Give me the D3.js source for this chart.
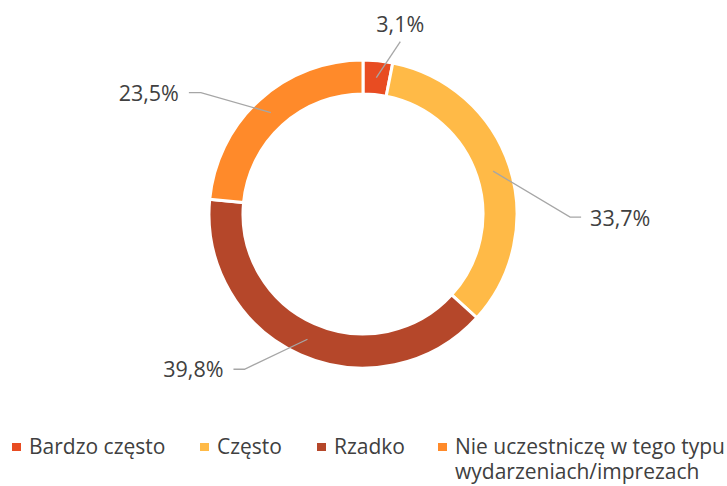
<!DOCTYPE html>
<html>
<head>
<meta charset="utf-8">
<script src="https://cdn.jsdelivr.net/npm/d3@7"></script>
<style>
  body { margin: 0; background: #fff; }
  svg text { font-family: "Open Sans", "Noto Sans", sans-serif; fill: #404040; }
</style>
</head>
<body>
<div id="chart"></div>
<script>
// chart data
const categories = ["Bardzo często", "Często", "Rzadko", "Nie uczestniczę w tego typu wydarzeniach/imprezach"];
const values = [3.1, 33.7, 39.8, 23.5];
const valueLabels = ["3,1%", "33,7%", "39,8%", "23,5%"];
const legendLines = [["Bardzo często"], ["Często"], ["Rzadko"], ["Nie uczestniczę w tego typu", "wydarzeniach/imprezach"]];

const colors = ["#E84C22", "#FFBA47", "#B5472A", "#FF8A2A"];

const width = 727, height = 486;
const cx = 363, cy = 214;
const outerR = 154, innerR = 120;

// label placement relative to slice centroid: elbow offset, end offset, anchor
const labelLayout = [
  { elbow: [24, -36], end: [24, -36], anchor: "middle", tdx: 0, tdy: -10 },
  { elbow: [77, 46], end: [88, 46], anchor: "start", tdx: 9, tdy: 9 },
  { elbow: [-63, 30], end: [-74, 30], anchor: "end", tdx: -10, tdy: 8 },
  { elbow: [-70, -20], end: [-82, -20], anchor: "end", tdx: -10, tdy: 8 }
];

const svg = d3.select("#chart").append("svg")
  .attr("width", width)
  .attr("height", height);

const g = svg.append("g").attr("transform", "translate(" + cx + "," + cy + ")");

const pie = d3.pie().sort(null).value(d => d);
const arcs = pie(values);

const arc = d3.arc().innerRadius(innerR).outerRadius(outerR);
const midArc = d3.arc().innerRadius(137).outerRadius(137);

g.selectAll("path.slice")
  .data(arcs)
  .enter()
  .append("path")
  .attr("class", "slice")
  .attr("d", arc)
  .attr("fill", (d, i) => colors[i])
  .attr("stroke", "#fff")
  .attr("stroke-width", 3);

// leader lines
g.selectAll("polyline.leader")
  .data(arcs)
  .enter()
  .append("polyline")
  .attr("class", "leader")
  .attr("fill", "none")
  .attr("stroke", "#A6A6A6")
  .attr("stroke-width", 1.3)
  .attr("points", (d, i) => {
    const c = midArc.centroid(d);
    const L = labelLayout[i];
    return [c, [c[0] + L.elbow[0], c[1] + L.elbow[1]], [c[0] + L.end[0], c[1] + L.end[1]]].map(p => p.join(",")).join(" ");
  });

g.selectAll("text.value")
  .data(arcs)
  .enter()
  .append("text")
  .attr("class", "value")
  .attr("text-anchor", (d, i) => labelLayout[i].anchor)
  .attr("x", (d, i) => midArc.centroid(d)[0] + labelLayout[i].end[0] + labelLayout[i].tdx)
  .attr("y", (d, i) => midArc.centroid(d)[1] + labelLayout[i].end[1] + labelLayout[i].tdy)
  .style("font-size", "21.5px")
  .text((d, i) => valueLabels[i]);

// legend
const legendX = [12, 200, 317, 438];
const legend = svg.append("g").attr("class", "legend");
const item = legend.selectAll("g.item")
  .data(categories)
  .enter()
  .append("g")
  .attr("class", "item")
  .attr("transform", (d, i) => "translate(" + legendX[i] + ",443)");

item.append("rect")
  .attr("x", 0)
  .attr("y", 0)
  .attr("width", 9)
  .attr("height", 8)
  .attr("fill", (d, i) => colors[i]);

item.append("text")
  .attr("x", 17)
  .attr("y", 11)
  .style("font-size", "21px")
  .selectAll("tspan")
  .data((d, i) => legendLines[i])
  .enter()
  .append("tspan")
  .attr("x", 17)
  .attr("dy", (d, j) => j === 0 ? 0 : 25)
  .text(d => d);
</script>
</body>
</html>
